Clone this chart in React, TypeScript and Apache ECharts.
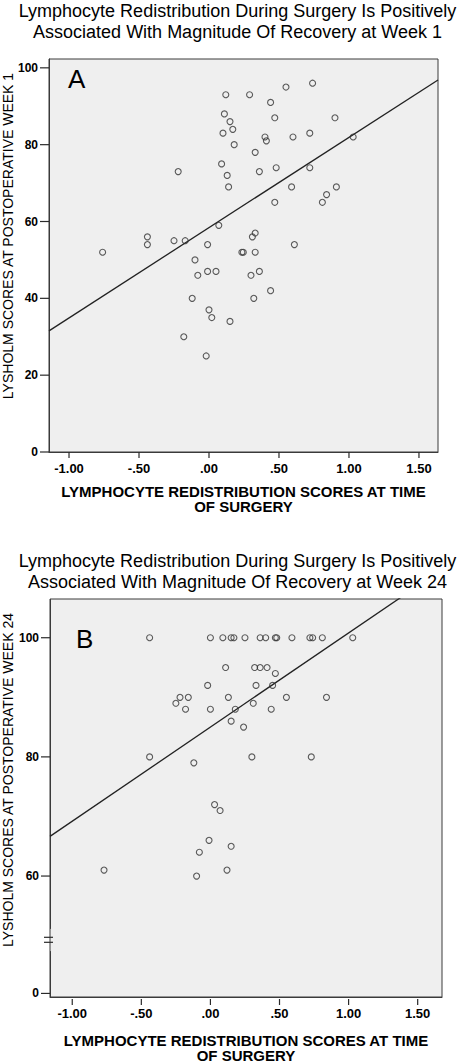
import React, { useEffect, useRef } from 'react';
import * as echarts from 'echarts';

const FONT = '"Liberation Sans", Arial, Helvetica, sans-serif';

const TITLE_A = [
  'Lymphocyte Redistribution During Surgery Is Positively',
  'Associated With Magnitude Of Recovery at Week 1',
];
const TITLE_B = [
  'Lymphocyte Redistribution During Surgery Is Positively',
  'Associated With Magnitude Of Recovery at Week 24',
];
const X_TITLE = 'LYMPHOCYTE REDISTRIBUTION SCORES AT TIME\nOF SURGERY';
const Y_TITLE_A = 'LYSHOLM SCORES AT POSTOPERATIVE WEEK 1';
const Y_TITLE_B = 'LYSHOLM SCORES AT POSTOPERATIVE WEEK 24';
const PANEL_A = 'A';
const PANEL_B = 'B';

const X_TICKS = [-1, -0.5, 0, 0.5, 1, 1.5];
const Y_TICKS_A = [0, 20, 40, 60, 80, 100];
const Y_TICKS_B = [0, 60, 80, 100];

// Week 1 scatter (x: redistribution score, y: Lysholm score)
const week1X = [
  0.12, 0.29, 0.44, 0.55, 0.74, 0.11, 0.15, 0.17, 0.1, 0.47, 0.9, 0.4, 0.41, 0.6, 0.72, 1.03,
  0.18, 0.33, 0.09, 0.13, 0.14, 0.36, 0.48, 0.72, -0.22, 0.59, 0.91, 0.84, 0.81, 0.47, 0.07,
  -0.44, -0.44, -0.25, -0.17, -0.01, 0.33, 0.31, 0.61, -0.76, 0.235, 0.245, 0.33, -0.1, -0.08,
  -0.01, 0.05, 0.3, 0.36, 0.44, -0.12, 0.32, 0.0, 0.02, 0.15, -0.18, -0.02,
];
const week1Y = [
  93, 93, 91, 95, 96, 88, 86, 84, 83, 87, 87, 82, 81, 82, 83, 82,
  80, 78, 75, 72, 69, 73, 74, 74, 73, 69, 69, 67, 65, 65, 59,
  56, 54, 55, 55, 54, 57, 56, 54, 52, 52, 52, 52, 50, 46,
  47, 47, 46, 47, 42, 40, 40, 37, 35, 34, 30, 25,
];

// Week 24 scatter
const week24X = [
  -0.44, 0.0, 0.09, 0.15, 0.17, 0.25, 0.36, 0.4, 0.47, 0.48, 0.59, 0.72, 0.74, 0.81, 1.03,
  0.11, 0.32, 0.36, 0.41, 0.47, -0.02, 0.33, 0.45, -0.22, -0.16, 0.13, 0.55, 0.84,
  -0.25, 0.31, -0.18, 0.0, 0.18, 0.44, 0.15, 0.24, -0.44, 0.3, 0.73, -0.12,
  0.03, 0.07, -0.01, 0.15, -0.08, -0.77, 0.12, -0.1,
];
const week24Y = [
  100, 100, 100, 100, 100, 100, 100, 100, 100, 100, 100, 100, 100, 100, 100,
  95, 95, 95, 95, 94, 92, 92, 92, 90, 90, 90, 90, 90,
  89, 89, 88, 88, 88, 88, 86, 85, 80, 80, 80, 79,
  72, 71, 66, 65, 64, 61, 61, 60,
];

// Fit lines
const FIT_A_INTERCEPT = 58.4;
const FIT_A_SLOPE = 23.5;
const FIT_B_INTERCEPT = 85.0;
const FIT_B_SLOPE = 15.8;

const X_RANGE_A: [number, number] = [-1.143, 1.636];
const Y_RANGE_A: [number, number] = [0, 102.3];
const X_RANGE_B: [number, number] = [-1.161, 1.676];
const Y_RANGE_B: [number, number] = [-0.6, 106.5];
const BREAK_B = { start: 7, end: 51.3, gap: 4 };

const GRIDS = [
  { left: 49, top: 59, width: 389, height: 393 },
  { left: 50, top: 599, width: 392, height: 400 },
];

const fmtX = (v: number) => {
  const s = Math.abs(v).toFixed(2);
  const t = s.startsWith('0') ? s.slice(1) : s;
  return v < 0 ? '-' + t : t;
};

const zip = (xs: number[], ys: number[]) => xs.map((x, i) => [x, ys[i]]);
const fitLine = (a: number, b: number, r: [number, number]) => [
  [r[0], a + b * r[0]],
  [r[1], a + b * r[1]],
];

const AXIS_COLOR = '#2a2a2a';
const BORDER_COLOR = '#3a3a3a';

const xAxisCfg = (gridIndex: number, r: [number, number], nameGap: number) => ({
  type: 'value',
  gridIndex,
  min: r[0],
  max: r[1],
  position: 'bottom',
  axisLine: { show: true, onZero: false, lineStyle: { color: BORDER_COLOR, width: 1 } },
  splitLine: { show: false },
  axisTick: { show: false },
  axisLabel: {
    customValues: X_TICKS,
    formatter: fmtX,
    margin: 10,
    fontFamily: FONT,
    fontSize: 13,
    fontWeight: 'bold',
    color: '#000',
  },
  name: X_TITLE,
  nameLocation: 'middle',
  nameGap,
  nameTextStyle: { fontFamily: FONT, fontSize: 15, fontWeight: 'bold', color: '#000', lineHeight: 15 },
});

const yAxisCfg = (gridIndex: number, r: [number, number], ticks: number[]) => ({
  type: 'value',
  gridIndex,
  min: r[0],
  max: r[1],
  position: 'left',
  axisLine: { show: true, onZero: false, lineStyle: { color: BORDER_COLOR, width: 1 } },
  splitLine: { show: false },
  axisTick: { show: false },
  axisLabel: {
    customValues: ticks,
    margin: 11,
    fontFamily: FONT,
    fontSize: 12,
    fontWeight: 'bold',
    color: '#000',
  },
});

const scatterStyle = {
  type: 'scatter',
  symbol: 'circle',
  symbolSize: 6,
  itemStyle: { color: 'rgba(0,0,0,0)', borderColor: '#333', borderWidth: 1.1 },
  z: 3,
};

const lineStyle = {
  type: 'line',
  showSymbol: false,
  symbol: 'none',
  lineStyle: { color: '#222', width: 1.3 },
  clip: true,
  z: 2,
};

const titleCfg = (lines: string[], top: number) => ({
  text: lines.join('\n'),
  left: 'center',
  top,
  padding: [0, 7, 0, 0],
  textStyle: { fontFamily: FONT, fontSize: 18, fontWeight: 'normal', color: '#000', lineHeight: 21 },
});

const toPx = (chart: any, finder: any, v: number): number => {
  const r = chart.convertToPixel(finder, v);
  if (typeof r === 'number') return r;
  if (Array.isArray(r)) return Number(r[0]);
  return Number(r);
};

export default function App() {
  const ref = useRef<HTMLDivElement>(null);
  useEffect(() => {
    if (!ref.current) return;
    const chart = echarts.init(ref.current, undefined, { renderer: 'svg' });
    const yB: any = yAxisCfg(1, Y_RANGE_B, Y_TICKS_B);
    yB.breaks = [{ start: BREAK_B.start, end: BREAK_B.end, gap: BREAK_B.gap }];
    yB.breakArea = { show: false };
    const option: any = {
      animation: false,
      backgroundColor: '#fff',
      title: [titleCfg(TITLE_A, 0), titleCfg(TITLE_B, 550)],
      grid: GRIDS.map((g) => ({
        ...g,
        show: true,
        backgroundColor: '#efefef',
        borderColor: BORDER_COLOR,
        borderWidth: 1,
      })),
      xAxis: [xAxisCfg(0, X_RANGE_A, 32), xAxisCfg(1, X_RANGE_B, 36)],
      yAxis: [yAxisCfg(0, Y_RANGE_A, Y_TICKS_A), yB],
      series: [
        { ...lineStyle, xAxisIndex: 0, yAxisIndex: 0, data: fitLine(FIT_A_INTERCEPT, FIT_A_SLOPE, X_RANGE_A) },
        { ...scatterStyle, xAxisIndex: 0, yAxisIndex: 0, data: zip(week1X, week1Y) },
        { ...lineStyle, xAxisIndex: 1, yAxisIndex: 1, data: fitLine(FIT_B_INTERCEPT, FIT_B_SLOPE, X_RANGE_B) },
        { ...scatterStyle, xAxisIndex: 1, yAxisIndex: 1, data: zip(week24X, week24Y) },
      ],
    };
    chart.setOption(option);

    const graphics: any[] = [
      {
        type: 'text', x: 8, y: 236, rotation: Math.PI / 2,
        style: { text: Y_TITLE_A, fontFamily: FONT, fontSize: 14, fill: '#000', textAlign: 'center', textVerticalAlign: 'middle' },
      },
      {
        type: 'text', x: 8, y: 780, rotation: Math.PI / 2,
        style: { text: Y_TITLE_B, fontFamily: FONT, fontSize: 14, fill: '#000', textAlign: 'center', textVerticalAlign: 'middle' },
      },
      {
        type: 'text', x: 68, y: 66,
        style: { text: PANEL_A, fontFamily: FONT, fontSize: 26, fill: '#000' },
      },
      {
        type: 'text', x: 76, y: 626,
        style: { text: PANEL_B, fontFamily: FONT, fontSize: 26, fill: '#000' },
      },
    ];

    const yTickSets = [Y_TICKS_A, Y_TICKS_B];
    GRIDS.forEach((g, i) => {
      const bottom = g.top + g.height;
      X_TICKS.forEach((v) => {
        const px = toPx(chart, { xAxisIndex: i }, v);
        if (isFinite(px)) {
          graphics.push({
            type: 'line', z: 10,
            shape: { x1: px, y1: bottom, x2: px, y2: bottom + 6 },
            style: { stroke: AXIS_COLOR, lineWidth: 1.2 },
          });
        }
      });
      yTickSets[i].forEach((v) => {
        const py = toPx(chart, { yAxisIndex: i }, v);
        if (isFinite(py)) {
          graphics.push({
            type: 'line', z: 10,
            shape: { x1: g.left - 9, y1: py, x2: g.left, y2: py },
            style: { stroke: AXIS_COLOR, lineWidth: 1.2 },
          });
        }
      });
    });

    const ys = toPx(chart, { yAxisIndex: 1 }, BREAK_B.start);
    const ye = toPx(chart, { yAxisIndex: 1 }, BREAK_B.end);
    const mid = (ys + ye) / 2;
    if (isFinite(mid)) {
      const x0 = GRIDS[1].left;
      graphics.push(
        { type: 'line', z: 10, shape: { x1: x0 - 6, y1: mid - 2.5, x2: x0 + 3, y2: mid - 2.5 }, style: { stroke: AXIS_COLOR, lineWidth: 1.2 } },
        { type: 'line', z: 10, shape: { x1: x0 - 6, y1: mid + 2.5, x2: x0 + 3, y2: mid + 2.5 }, style: { stroke: AXIS_COLOR, lineWidth: 1.2 } },
      );
    }
    chart.setOption({ graphic: graphics });
    return () => chart.dispose();
  }, []);
  return <div ref={ref} style={{ position: 'absolute', left: 0, top: 0, width: 475, height: 1064 }} />;
}
